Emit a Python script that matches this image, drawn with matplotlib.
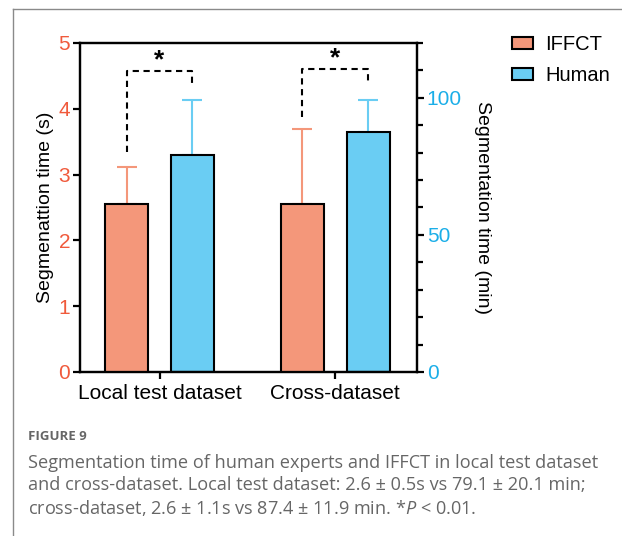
import matplotlib
matplotlib.use("Agg")
import numpy as np
import matplotlib.pyplot as plt
from matplotlib.ticker import MultipleLocator
from matplotlib.patches import Patch
from matplotlib.lines import Line2D

plt.rcParams['font.family'] = ['Liberation Sans', 'DejaVu Sans']
plt.rcParams['mathtext.fontset'] = 'custom'
plt.rcParams['mathtext.it'] = 'Open Sans:italic'
plt.rcParams['mathtext.rm'] = 'Open Sans'

# données
groupes = ['Local test dataset', 'Cross-dataset']
iffct_s = [2.56, 2.56]          # secondes (axe gauche)
iffct_err = [0.55, 1.14]
human_min = [79.1, 87.4]        # minutes (axe droit)
human_err = [20.1, 11.9]
# crochets de significativité (unités de l'axe gauche): bas gauche, haut, bas droit
crochets = [[3.35, 4.58, 4.34], [3.87, 4.61, 4.41]]

c_iffct = '#F4977A'
c_human = '#6ACDF3'
c_gauche = '#F05A3C'
c_droite = '#1BAEE8'

fig = plt.figure(figsize=(6.22, 5.36), dpi=100)
ax = fig.add_axes([0.1286, 0.306, 0.5418, 0.6138])
ax2 = ax.twinx()

x = np.arange(len(groupes))
w = 0.245
d = 0.188

ax.bar(x - d, iffct_s, w, color=c_iffct, edgecolor='black', linewidth=1.5,
       yerr=[np.zeros(2), iffct_err],
       error_kw=dict(ecolor=c_iffct, elinewidth=1.5, capsize=7.5, capthick=1.5, zorder=0.5))
ax2.bar(x + d, human_min, w, color=c_human, edgecolor='black', linewidth=1.5,
        yerr=[np.zeros(2), human_err],
        error_kw=dict(ecolor=c_human, elinewidth=1.5, capsize=7.5, capthick=1.5, zorder=0.5))

ax.set_xlim(-0.453, 1.467)
ax.set_ylim(0, 5)
ax2.set_ylim(0, 120)

# crochets pointillés + étoiles
for i, (b1, top, b2) in enumerate(crochets):
    ax.plot([x[i] - d, x[i] - d, x[i] + d, x[i] + d], [b1, top, top, b2],
            color='black', lw=1.5, ls=(0, (3, 2.2)), zorder=5, clip_on=False)
    ax.text(x[i], top - 0.02, '*', ha='center', va='bottom', fontsize=19,
            fontweight='bold', zorder=5)
# la courbe doit passer au-dessus de ax2
ax.set_zorder(ax2.get_zorder() + 1)
ax.patch.set_visible(False)

ax.set_xticks(x)
ax.set_xticklabels(groupes, fontsize=15)
ax.set_yticks(range(6))
ax.tick_params(axis='y', colors=c_gauche, labelsize=15, length=5, width=1.6, direction='out', pad=2)
ax.tick_params(axis='x', length=5, width=1.6, pad=4)
ax2.yaxis.set_major_locator(MultipleLocator(50))
ax2.yaxis.set_minor_locator(MultipleLocator(10))
ax2.tick_params(axis='y', which='major', colors=c_droite, labelsize=15, length=5, width=1.6, pad=2)
ax2.tick_params(axis='y', which='minor', length=4, width=1.6, color='black')
ax2.tick_params(axis='y', which='major', color='black')
ax.tick_params(axis='y', color='black')

for a in (ax, ax2):
    for s in a.spines.values():
        s.set_linewidth(1.6)
        s.set_color('black')

ax.set_ylabel('Segmenattion time (s)', fontsize=14, labelpad=3)
ax2.set_ylabel('Segmentation time (min)', fontsize=14, rotation=270, labelpad=21)

handles = [Patch(facecolor=c_iffct, edgecolor='black', linewidth=1.5, label='IFFCT'),
           Patch(facecolor=c_human, edgecolor='black', linewidth=1.5, label='Human')]
fig.legend(handles=handles, loc='upper left', bbox_to_anchor=(0.823, 0.935), frameon=False,
           fontsize=14.5, handlelength=1.05, handleheight=0.55, handletextpad=0.6,
           labelspacing=0.62, borderpad=0, borderaxespad=0)

# cadre gris
fig.add_artist(Line2D([13/622, 13/622], [0, 1 - 9/536], color='#8a8a8a', lw=1,
                      transform=fig.transFigure))
fig.add_artist(Line2D([13/622, 1], [1 - 9/536, 1 - 9/536], color='#8a8a8a', lw=1,
                      transform=fig.transFigure))

# légende de la figure
gris = '#666666'
fig.text(28/622, 1 - 437/536, 'FIGURE 9', fontsize=9.5, fontweight='bold', color=gris,
         family='Open Sans', va='center')
lignes = ['Segmentation time of human experts and IFFCT in local test dataset',
          'and cross-dataset. Local test dataset: 2.6 ± 0.5s vs 79.1 ± 20.1 min;',
          'cross-dataset, 2.6 ± 1.1s vs 87.4 ± 11.9 min. *$P$ < 0.01.']
for k, l in enumerate(lignes):
    fig.text(28/622, 1 - (463 + 22.5 * k)/536, l, fontsize=13.1, color=gris,
             family='Open Sans', va='center')

fig.savefig('out.png', dpi=100)
